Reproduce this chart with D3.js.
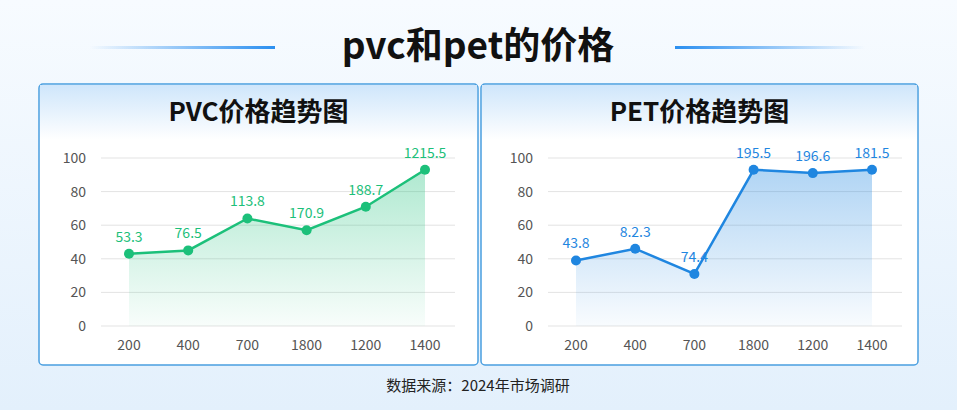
<!DOCTYPE html>
<meta charset="utf-8">
<style>
  body { margin: 0; }
  text { font-family: "Noto Sans CJK SC", "Noto Sans", sans-serif; }
</style>
<body>
<script src="https://d3js.org/d3.v7.min.js"></script>
<script>
var categories = ["200", "400", "700", "1800", "1200", "1400"];
var pvcValues = [43, 45, 64, 57, 71, 93];
var pvcLabels = ["53.3", "76.5", "113.8", "170.9", "188.7", "1215.5"];
var petValues = [39, 46, 31, 93, 91, 93];
var petLabels = ["43.8", "8.2.3", "74.4", "195.5", "196.6", "181.5"];
var yTicks = [0, 20, 40, 60, 80, 100];

var W = 957, H = 410;
var svg = d3.select("body").append("svg").attr("width", W).attr("height", H);
var defs = svg.append("defs");

var bg = defs.append("linearGradient").attr("id", "bg").attr("x1", 0).attr("y1", 0).attr("x2", 0).attr("y2", 1);
bg.append("stop").attr("offset", 0).attr("stop-color", "#f7fbff");
bg.append("stop").attr("offset", 1).attr("stop-color", "#e3f0fc");
svg.append("rect").attr("width", W).attr("height", H).attr("fill", "url(#bg)");

function lineGrad(id, rev) {
  var g = defs.append("linearGradient").attr("id", id).attr("x1", rev ? 1 : 0).attr("x2", rev ? 0 : 1);
  g.append("stop").attr("offset", 0).attr("stop-color", "#2b8ff0").attr("stop-opacity", 0);
  g.append("stop").attr("offset", 1).attr("stop-color", "#2b8ff0");
}
lineGrad("dl", false); lineGrad("dr", true);
svg.append("rect").attr("x", 90).attr("y", 46).attr("width", 185).attr("height", 3).attr("fill", "url(#dl)");
svg.append("rect").attr("x", 675).attr("y", 46).attr("width", 190).attr("height", 3).attr("fill", "url(#dr)");
svg.append("text").attr("x", 478).attr("y", 59).attr("text-anchor", "middle")
  .attr("font-size", 37).attr("font-weight", "bold").attr("fill", "#111").text("pvc和pet的价格");

var hg = defs.append("linearGradient").attr("id", "hg").attr("x1", 0).attr("y1", 0).attr("x2", 0).attr("y2", 1);
hg.append("stop").attr("offset", 0).attr("stop-color", "#cfe6fb");
hg.append("stop").attr("offset", 1).attr("stop-color", "#ffffff");

function panel(x0, w, title, values, labels, color, fillId, plotL, plotR) {
  var g = svg.append("g");
  g.append("rect").attr("x", x0).attr("y", 84).attr("width", w).attr("height", 281)
    .attr("fill", "#fff").attr("stroke", "#4a9fe0").attr("stroke-width", 1.5).attr("rx", 4);
  g.append("rect").attr("x", x0 + 1).attr("y", 85).attr("width", w - 2).attr("height", 55).attr("fill", "url(#hg)");
  g.append("text").attr("x", x0 + w / 2).attr("y", 121).attr("text-anchor", "middle")
    .attr("font-size", 26).attr("font-weight", "bold").attr("fill", "#111").text(title);

  var x = d3.scalePoint().domain(categories).range([plotL, plotR]);
  var y = d3.scaleLinear().domain([0, 100]).range([326, 158]);

  yTicks.forEach(function(t) {
    g.append("line").attr("x1", plotL - 28).attr("x2", plotR + 30).attr("y1", y(t)).attr("y2", y(t))
      .attr("stroke", "#e3e3e3");
    g.append("text").attr("x", plotL - 43).attr("y", y(t) + 5).attr("text-anchor", "end")
      .attr("font-size", 14).attr("fill", "#555").text(t);
  });
  categories.forEach(function(c) {
    g.append("text").attr("x", x(c)).attr("y", 350).attr("text-anchor", "middle")
      .attr("font-size", 14).attr("fill", "#555").text(c);
  });

  var fg = defs.append("linearGradient").attr("id", fillId).attr("x1", 0).attr("y1", 0).attr("x2", 0).attr("y2", 1);
  fg.append("stop").attr("offset", 0).attr("stop-color", color).attr("stop-opacity", 0.35);
  fg.append("stop").attr("offset", 1).attr("stop-color", color).attr("stop-opacity", 0.03);

  var data = values.map(function(v, i) { return {c: categories[i], v: v, l: labels[i]}; });
  g.append("path").datum(data).attr("fill", "url(#" + fillId + ")")
    .attr("d", d3.area().x(function(d) { return x(d.c); }).y0(y(0)).y1(function(d) { return y(d.v); }));
  g.append("path").datum(data).attr("fill", "none").attr("stroke", color).attr("stroke-width", 2.5)
    .attr("d", d3.line().x(function(d) { return x(d.c); }).y(function(d) { return y(d.v); }));
  data.forEach(function(d) {
    g.append("circle").attr("cx", x(d.c)).attr("cy", y(d.v)).attr("r", 5).attr("fill", color);
    g.append("text").attr("x", x(d.c)).attr("y", y(d.v) - 12).attr("text-anchor", "middle")
      .attr("font-size", 14).attr("fill", color).text(d.l);
  });
}

panel(39, 439, "PVC价格趋势图", pvcValues, pvcLabels, "#1cc07a", "fp", 129, 425);
panel(481, 437, "PET价格趋势图", petValues, petLabels, "#1f86e0", "fe", 576, 872);

svg.append("text").attr("x", 478).attr("y", 391).attr("text-anchor", "middle")
  .attr("font-size", 15).attr("fill", "#222").text("数据来源：2024年市场调研");
</script>
</body>
</html>
